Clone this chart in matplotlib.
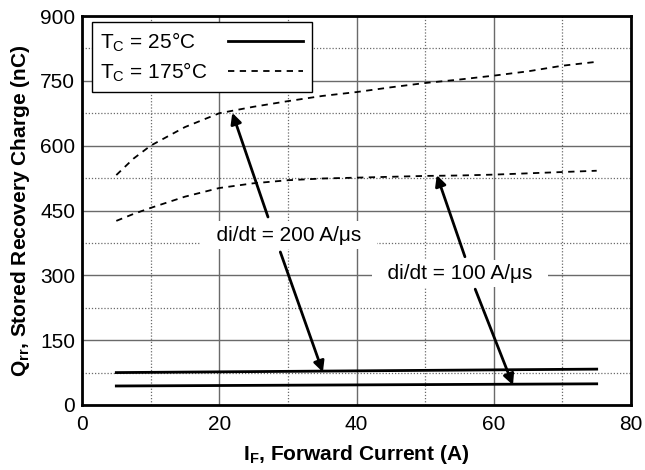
import matplotlib
matplotlib.use("Agg")
import matplotlib.pyplot as plt
from matplotlib.ticker import MultipleLocator

plt.rcParams['font.family'] = ['Liberation Sans', 'DejaVu Sans']

# Forward current (A)
i_f = [5, 7.5, 10, 15, 20, 25, 30, 35, 40, 45, 50, 55, 60, 65, 70, 75]
# Tc = 175 C, di/dt = 200 A/us
q_175_200 = [532, 570, 600, 643, 675, 690, 703, 715, 724, 735, 745, 753, 762, 772, 785, 794]
# Tc = 175 C, di/dt = 100 A/us
q_175_100 = [426, 442, 456, 482, 502, 513, 520, 524, 526, 528, 530, 531, 533, 536, 539, 542]
# Tc = 25 C
i_f_25 = [5, 75]
q_25_200 = [75, 83]
q_25_100 = [44, 49]

fs = 15

fig, ax = plt.subplots(figsize=(6.45, 4.70), dpi=100)
fig.subplots_adjust(left=82/645, right=631/645, bottom=1-405/470, top=1-16/470)

ax.set_xlim(0, 80)
ax.set_ylim(0, 900)
ax.xaxis.set_major_locator(MultipleLocator(20))
ax.xaxis.set_minor_locator(MultipleLocator(10))
ax.yaxis.set_major_locator(MultipleLocator(150))
ax.yaxis.set_minor_locator(MultipleLocator(75))
ax.grid(True, which='major', color='#6a6a6a', lw=1.0, ls='-')
ax.grid(True, which='minor', color='#6a6a6a', lw=0.9, ls=(0, (1, 1.5)))
ax.set_axisbelow(True)
ax.tick_params(which='both', length=0, labelsize=fs)
ax.tick_params(axis='x', pad=7)
ax.tick_params(axis='y', pad=5)
for s in ax.spines.values():
    s.set_linewidth(2)

l1, = ax.plot(i_f_25, q_25_200, color='k', lw=2, label=r'T$_\mathregular{C}$ = 25°C')
ax.plot(i_f_25, q_25_100, color='k', lw=2)
l2, = ax.plot(i_f, q_175_200, color='k', lw=1.3, dashes=(3.5, 3), label=r'T$_\mathregular{C}$ = 175°C')
ax.plot(i_f, q_175_100, color='k', lw=1.3, dashes=(3.5, 3))

leg = ax.legend(handles=[l1, l2], loc='upper left', bbox_to_anchor=(0.018, 0.985),
                borderaxespad=0, markerfirst=False, fontsize=fs,
                handlelength=3.6, fancybox=False, framealpha=1, edgecolor='k',
                borderpad=0.4, labelspacing=0.3, handletextpad=1.0)
leg.get_frame().set_linewidth(1)

# legend texts left aligned, lines right aligned
fig.canvas.draw()
renderer = fig.canvas.get_renderer()
rows = leg._legend_handle_box.get_children()[0].get_children()
row_w = max(r.get_bbox(renderer).width for r in rows)
for r in rows:
    r.mode = 'expand'
    r.width = row_w

box = dict(facecolor='white', edgecolor='none', boxstyle='square,pad=0.2')
ax.text(30.2, 393, '  di/dt = 200 A/μs  ', fontsize=fs, ha='center', va='center', bbox=box)
ax.text(55.1, 305, '  di/dt = 100 A/μs  ', fontsize=fs, ha='center', va='center', bbox=box)

ap = dict(arrowstyle='-|>', color='k', lw=2, mutation_scale=16, shrinkA=0, shrinkB=0)
ax.annotate('', xy=(21.9, 676), xytext=(27.1, 435), arrowprops=ap)
ax.annotate('', xy=(35.1, 76), xytext=(28.9, 354), arrowprops=ap)
ax.annotate('', xy=(51.7, 532), xytext=(55.8, 343), arrowprops=ap)
ax.annotate('', xy=(62.8, 46), xytext=(57.3, 268), arrowprops=ap)

ax.set_xlabel(r'I$_\mathregular{F}$, Forward Current (A)', fontsize=fs, fontweight='bold', labelpad=7)
ax.set_ylabel(r'Q$_\mathregular{rr}$, Stored Recovery Charge (nC)', fontsize=fs, fontweight='bold', labelpad=6)

fig.savefig('out.png', dpi=100)
